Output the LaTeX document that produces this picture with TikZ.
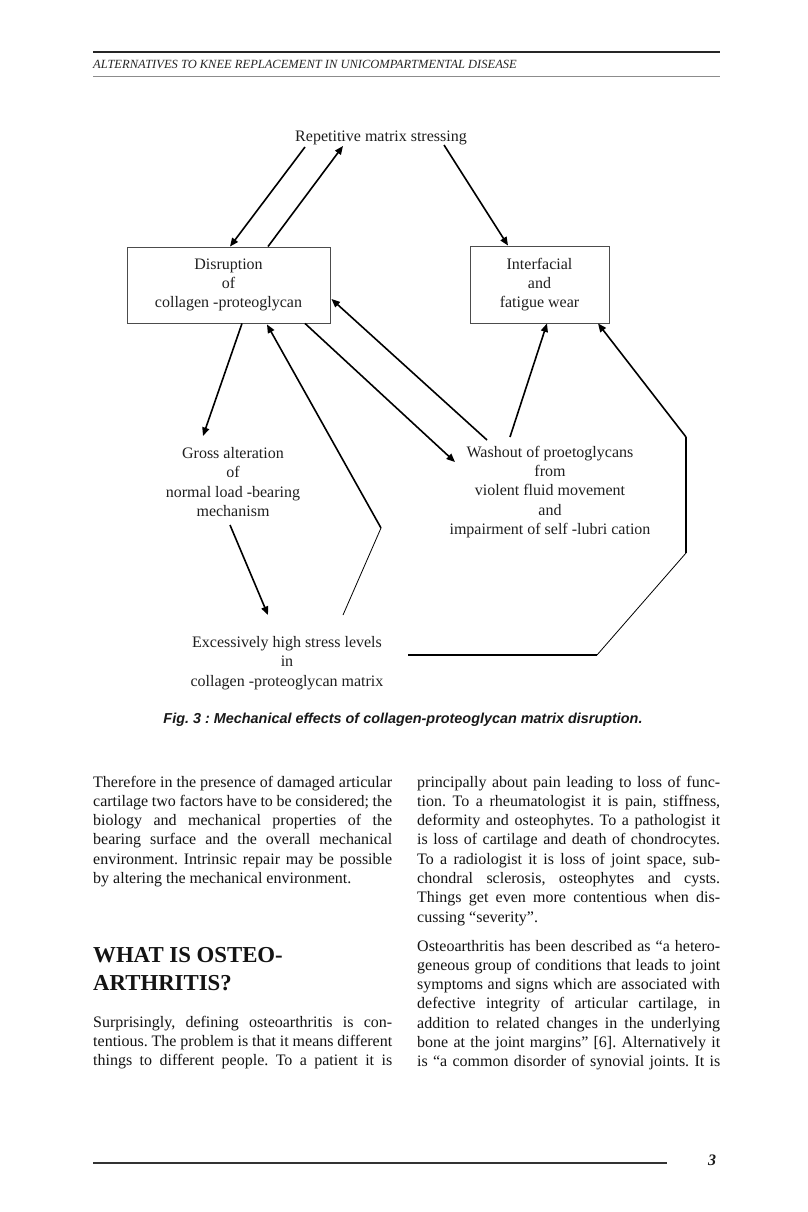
\documentclass[tikz,border=0pt]{standalone}
\usepackage{fontspec}
\setmainfont{Liberation Serif}
\newfontfamily\capsans{Liberation Sans}
\usetikzlibrary{arrows.meta}
\frenchspacing
\begin{document}
\begin{tikzpicture}[x=1pt,y=-1pt,
  lbl/.style={align=center, inner sep=0pt, font=\fontsize{16pt}{19.4pt}\selectfont, text=black!88},
  boxnode/.style={draw=black!70, line width=0.9pt, minimum width=203pt, minimum height=76pt, inner sep=0pt, align=center, font=\fontsize{16pt}{19.2pt}\selectfont, text=black!88},
  arr/.style={line width=1.6pt, -{Triangle[length=8.5pt,width=7pt]}},
  thinln/.style={line width=0.8pt},
  medln/.style={line width=1.2pt},
  body/.style={anchor=base west, inner sep=0pt, font=\fontsize{16pt}{19.3pt}\selectfont, text=black!92},
  headfont/.style={anchor=base west, inner sep=0pt, font=\bfseries\fontsize{22.8pt}{28pt}\selectfont, text=black!92},
]
\fill[white] (0,0) rectangle (807,1212);
\useasboundingbox (0,0) rectangle (807,1212);

% running header
\draw[line width=2.4pt, black!85] (93,52) -- (720,52);
\node[anchor=base west, inner sep=0pt, font=\itshape\fontsize{12.5pt}{14pt}\selectfont, text=black!85] (hdr) at (93,69) {ALTERNATIVES TO KNEE REPLACEMENT IN UNICOMPARTMENTAL DISEASE};
\draw[line width=1.4pt, black!45] (93,76.5) -- (720,76.5);

% diagram nodes
\node[lbl] (rep) at (381,138) {Repetitive matrix stressing};
\node[boxnode] (disr) at (228.5,285) {Disruption\\of\\collagen -proteoglycan};
\node[boxnode, minimum width=139pt, minimum height=77pt] (intf) at (539.5,284.5) {Interfacial\\and\\fatigue wear};
\node[lbl] (gross) at (233,482) {Gross alteration\\of\\normal load -bearing\\mechanism};
\node[lbl] (wash) at (550,492) {Washout of proetoglycans\\from\\violent fluid movement\\and\\impairment of self -lubri cation};
\node[lbl] (exc) at (287,663) {Excessively high stress levels\\in\\collagen -proteoglycan matrix};

\coordinate (b5) at (381,528);
\coordinate (b9a) at (597,655);
\coordinate (b9b) at (686,553);
\coordinate (b9c) at (686,437);

% connectors
\draw[arr] ([shift={(-76,9)}]rep.center) -- ([shift={(1.5,0)}]disr.north);
\draw[arr] ([shift={(39.5,0)}]disr.north) -- ([shift={(-38,8)}]rep.center);
\draw[arr] ([shift={(63,7)}]rep.center) -- ([shift={(-31.5,0)}]intf.north);
\draw[arr] ([shift={(13.5,0)}]disr.south) -- ([shift={(-30,-46)}]gross.center);
\draw[thinln] ([shift={(56,-48)}]exc.center) -- (b5);
\draw[arr] (b5) -- ([shift={(38.5,1)}]disr.south);
\draw[arr] ([shift={(76.5,0)}]disr.south) -- ([shift={(-95,-30)}]wash.center);
\draw[arr] ([shift={(-63,-52)}]wash.center) -- ([shift={(1,14)}]disr.east);
\draw[arr] ([shift={(-40,-55)}]wash.center) -- ([shift={(7.5,0)}]intf.south);
\draw[medln] ([shift={(121,-8)}]exc.center) -- (b9a);
\draw[thinln] (b9a) -- (b9b);
\draw[medln] (b9b) -- (b9c);
\draw[arr] (b9c) -- ([shift={(58.5,0)}]intf.south);
\draw[arr] ([shift={(-3,43)}]gross.center) -- ([shift={(-19,-48)}]exc.center);

% caption
\node[anchor=base, inner sep=0pt, font=\capsans\bfseries\itshape\fontsize{14.4pt}{17pt}\selectfont, text=black!90] (cap) at (403,723) {Fig. 3 : Mechanical effects of collagen-proteoglycan matrix disruption.};

% left column
\node[body] (lp1) at (93,787) {\begin{minipage}[t]{299pt}%
\makebox[299pt][s]{Therefore in the presence of damaged articular}\\
\makebox[299pt][s]{cartilage two factors have to be considered; the}\\
\makebox[299pt][s]{biology and mechanical properties of the}\\
\makebox[299pt][s]{bearing surface and the overall mechanical}\\
\makebox[299pt][s]{environment. Intrinsic repair may be possible}\\
by altering the mechanical environment.
\end{minipage}};
\node[headfont] (hd1) at (93,962) {WHAT IS OSTEO-};
\node[headfont] (hd2) at (93,990) {ARTHRITIS?};
\node[body] (lp2) at (93,1027) {\begin{minipage}[t]{299pt}%
\makebox[299pt][s]{Surprisingly, defining osteoarthritis is con-}\\
\makebox[299pt][s]{tentious. The problem is that it means different}\\
\makebox[299pt][s]{things to different people. To a patient it is}
\end{minipage}};

% right column
\node[body] (rp1) at (417,787) {\begin{minipage}[t]{303pt}%
\makebox[303pt][s]{principally about pain leading to loss of func-}\\
\makebox[303pt][s]{tion. To a rheumatologist it is pain, stiffness,}\\
\makebox[303pt][s]{deformity and osteophytes. To a pathologist it}\\
\makebox[303pt][s]{is loss of cartilage and death of chondrocytes.}\\
\makebox[303pt][s]{To a radiologist it is loss of joint space, sub-}\\
\makebox[303pt][s]{chondral sclerosis, osteophytes and cysts.}\\
\makebox[303pt][s]{Things get even more contentious when dis-}\\
cussing “severity”.
\end{minipage}};
\node[body] (rp2) at (417,951) {\begin{minipage}[t]{303pt}%
\makebox[303pt][s]{Osteoarthritis has been described as “a hetero-}\\
\makebox[303pt][s]{geneous group of conditions that leads to joint}\\
\makebox[303pt][s]{symptoms and signs which are associated with}\\
\makebox[303pt][s]{defective integrity of articular cartilage, in}\\
\makebox[303pt][s]{addition to related changes in the underlying}\\
\makebox[303pt][s]{bone at the joint margins” [6]. Alternatively it}\\
\makebox[303pt][s]{is “a common disorder of synovial joints. It is}
\end{minipage}};

% footer
\draw[line width=2.4pt, black!80] (93,1163) -- (667,1163);
\node[anchor=base, inner sep=0pt, font=\bfseries\itshape\fontsize{16pt}{18pt}\selectfont, text=black!90] (pg) at (712,1165) {3};
\end{tikzpicture}
\end{document}
